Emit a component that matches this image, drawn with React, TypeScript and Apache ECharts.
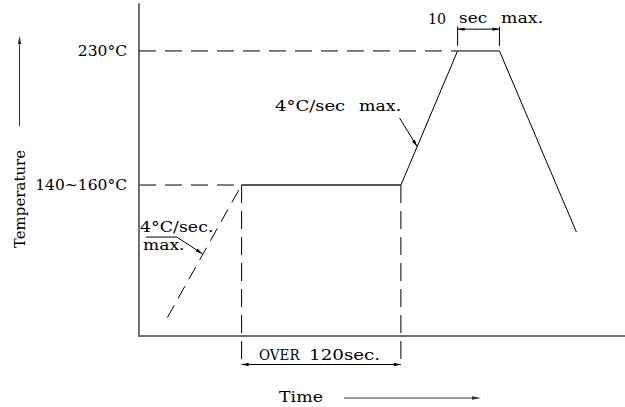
import React, { useEffect, useRef } from "react";
import * as echarts from "echarts";

// ---- data (time in arbitrary seconds-like units, temperature in °C) ----
const preheatTime = [21, 76];
const preheatTemp = [71, 150];
const soakTime = [76, 194];
const soakTemp = [150, 150];
const reflowTime = [194, 236, 267, 324];
const reflowTemp = [150, 230, 230, 122];
const peakRefTime = [0, 236];
const peakRefTemp = [230, 230];
const soakRefTime = [0, 76];
const soakRefTemp = [150, 150];
const guideTimes = [76, 194];
const guideTemps = [150, 43];
const soakDimTime = [76, 194];
const soakDimTemp = 43;
const peakDimTime = [236, 267];
const peakDimTemp = 243;
const peakExtTemps = [244.5, 233];
const rampLeaderTime = [193, 206];
const rampLeaderTemp = [190, 173];
const preheatLeaderTime = [5, 28, 47];
const preheatLeaderTemp = [119, 119, 109];
const yTickValues = [150, 230];
const yTickLabels = ["140~160°C", "230°C"];

const zip = (xs: number[], ys: number[]) => xs.map((x, i) => [x, ys[i]]);

const FONT = '"DejaVu Serif"';
const AXIS = "#707070";

function renderAnnotations(params: any, api: any) {
  const p = (t: number, T: number) => api.coord([t, T]);
  const kids: any[] = [];
  const seg = (a: number[], b: number[]) =>
    kids.push({
      type: "line",
      shape: { x1: a[0], y1: a[1], x2: b[0], y2: b[1] },
      style: { stroke: "#000", lineWidth: 1 },
    });
  const head = (tip: number[], from: number[]) => {
    const dx = tip[0] - from[0];
    const dy = tip[1] - from[1];
    const len = Math.hypot(dx, dy) || 1;
    const ux = dx / len;
    const uy = dy / len;
    const L = 7;
    const w = 1.7;
    const bx = tip[0] - ux * L;
    const by = tip[1] - uy * L;
    kids.push({
      type: "polygon",
      shape: {
        points: [
          [tip[0], tip[1]],
          [bx - uy * w, by + ux * w],
          [bx + uy * w, by - ux * w],
        ],
      },
      style: { fill: "#000" },
    });
  };
  // soak time dimension
  {
    const a = p(soakDimTime[0], soakDimTemp);
    const b = p(soakDimTime[1], soakDimTemp);
    seg(a, b);
    head(a, b);
    head(b, a);
  }
  // peak dimension
  {
    const a = p(peakDimTime[0], peakDimTemp);
    const b = p(peakDimTime[1], peakDimTemp);
    seg(a, b);
    head(a, b);
    head(b, a);
    seg(p(peakDimTime[0], peakExtTemps[0]), p(peakDimTime[0], peakExtTemps[1]));
    seg(p(peakDimTime[1], peakExtTemps[0]), p(peakDimTime[1], peakExtTemps[1]));
  }
  // ramp leader
  {
    const a = p(rampLeaderTime[0], rampLeaderTemp[0]);
    const b = p(rampLeaderTime[1], rampLeaderTemp[1]);
    seg(a, b);
    head(b, a);
  }
  // preheat leader
  {
    const a = p(preheatLeaderTime[0], preheatLeaderTemp[0]);
    const b = p(preheatLeaderTime[1], preheatLeaderTemp[1]);
    const c = p(preheatLeaderTime[2], preheatLeaderTemp[2]);
    seg(a, b);
    seg(b, c);
    head(c, b);
  }
  return { type: "group", children: kids };
}

const txt = (text: string, x: number, y: number, sx = 1, extra: any = {}) => ({
  type: "text",
  x,
  y,
  scaleX: sx,
  ...extra,
  style: {
    text,
    fill: "#000",
    fontSize: 15,
    fontFamily: FONT,
    align: "left",
    verticalAlign: "middle",
    ...(extra.style || {}),
  },
});

export default function App() {
  const ref = useRef<HTMLDivElement>(null);
  useEffect(() => {
    document.body.style.margin = "0";
    const chart = echarts.init(ref.current!, null, { renderer: "svg" });
    const lineBase = { type: "line", symbol: "none", silent: true };
    chart.setOption({
      animation: false,
      backgroundColor: "#fff",
      grid: { left: 139, right: 0, top: 4, bottom: 71 },
      xAxis: {
        type: "value",
        min: 0,
        max: 360,
        axisLine: { show: true, lineStyle: { color: AXIS, width: 2 } },
        axisTick: { show: false },
        axisLabel: { show: false },
        splitLine: { show: false },
      },
      yAxis: {
        type: "value",
        min: 60,
        max: 258,
        interval: 10,
        axisLine: { show: true, lineStyle: { color: AXIS, width: 2 } },
        axisTick: { show: false },
        splitLine: { show: false },
        axisLabel: {
          margin: 12,
          color: "#000",
          fontSize: 15.5,
          fontFamily: FONT,
          formatter: (v: number) => {
            const i = yTickValues.indexOf(v);
            return i >= 0 ? yTickLabels[i] : "";
          },
        },
      },
      series: [
        {
          ...lineBase,
          data: zip(peakRefTime, peakRefTemp),
          lineStyle: { color: "#000", width: 1, type: [17, 9] },
        },
        {
          ...lineBase,
          data: zip(soakRefTime, soakRefTemp),
          lineStyle: { color: "#555", width: 1.5, type: [17, 9] },
        },
        ...guideTimes.map((t) => ({
          ...lineBase,
          clip: false,
          data: guideTemps.map((T) => [t, T]),
          lineStyle: { color: "#000", width: 1, type: [18, 8] },
        })),
        {
          ...lineBase,
          data: zip(preheatTime, preheatTemp),
          lineStyle: { color: "#000", width: 1, type: [14, 8] },
        },
        {
          ...lineBase,
          data: zip(soakTime, soakTemp),
          lineStyle: { color: "#555", width: 2 },
        },
        {
          ...lineBase,
          data: zip(reflowTime, reflowTemp),
          lineStyle: { color: "#000", width: 1 },
        },
        {
          type: "custom",
          silent: true,
          clip: false,
          data: [[0, 60]],
          renderItem: renderAnnotations,
        },
      ],
      graphic: [
        txt("Temperature", 19.5, 199, 1, { rotation: Math.PI / 2, style: { align: "center" } }),
        {
          type: "line",
          shape: { x1: 19.5, y1: 126, x2: 19.5, y2: 42 },
          style: { stroke: "#333", lineWidth: 1 },
        },
        {
          type: "polygon",
          shape: { points: [[19.5, 36], [17.7, 44], [21.3, 44]] },
          style: { fill: "#333" },
        },
        txt("Time", 279, 397, 1.16),
        {
          type: "line",
          shape: { x1: 344, y1: 398, x2: 474, y2: 398 },
          style: { stroke: "#333", lineWidth: 1 },
        },
        {
          type: "polygon",
          shape: { points: [[481, 398], [472, 396.3], [472, 399.7]] },
          style: { fill: "#333" },
        },
        txt("4°C/sec", 275, 106, 1.2),
        txt("max.", 359, 106, 1.16),
        txt("10", 428, 18, 0.95),
        txt("sec", 459, 18, 1.13),
        txt("max.", 501, 18, 1.16),
        txt("OVER", 259, 355, 0.9),
        txt("120sec.", 309, 355, 1.22),
        txt("4°C/sec.", 140, 227, 1.16),
        txt("max.", 143, 245, 1.14),
      ],
    });
    return () => chart.dispose();
  }, []);
  return (
    <div
      ref={ref}
      style={{ position: "fixed", left: 0, top: 0, width: 625, height: 407, background: "#fff" }}
    />
  );
}
